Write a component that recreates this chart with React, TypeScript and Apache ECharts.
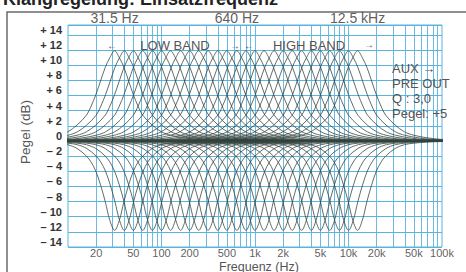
import React, { useEffect, useRef } from 'react';
import * as echarts from 'echarts';

// ---- data ----
const lowBandCentersHz = [31.5, 40, 50, 63, 80, 100, 125, 160, 200, 250, 315, 400, 500, 640];
const highBandCentersHz = [800, 1000, 1250, 1600, 2000, 2500, 3150, 4000, 5000, 6300, 8000, 10000, 12500];

// offset from the centre frequency, in octaves
const shapeOffsetsOct = [-12, -6, -4, -3, -2.5, -2, -1.667, -1.333, -1, -0.833, -0.667, -0.5, -0.333, -0.167, 0,
  0.167, 0.333, 0.5, 0.667, 0.833, 1, 1.333, 1.667, 2, 2.5, 3, 4, 6, 12];
// level of a boost curve (dB) at those offsets
const boostShapeDb = [0, 0, 0.08, 0.2, 0.4, 0.75, 1.2, 2.1, 3.4, 4.6, 6.1, 7.9, 9.7, 11.0, 11.9,
  11.0, 9.7, 7.9, 6.1, 4.6, 3.4, 2.1, 1.2, 0.75, 0.4, 0.2, 0.08, 0, 0];
// level of a cut curve (dB) at those offsets
const cutShapeDb = [0, 0, -0.03, -0.08, -0.15, -0.3, -0.5, -1.0, -2.0, -2.8, -4.0, -5.8, -8.0, -10.5, -11.8,
  -10.5, -8.0, -5.8, -4.0, -2.8, -2.0, -1.0, -0.5, -0.3, -0.15, -0.08, -0.03, 0, 0];

const xTickHz = [20, 50, 100, 200, 500, 1000, 2000, 5000, 10000, 20000, 50000, 100000];
const xTickLabels = ['20', '50', '100', '200', '500', '1k', '2k', '5k', '10k', '20k', '50k', '100k'];

const bandEdgeHz = [31.5, 640, 12500];
const bandEdgeLabels = ['31.5 Hz', '640 Hz', '12.5 kHz'];

const gridDecadesHz = [10, 100, 1000, 10000];
const gridMultiples = [1, 2, 3, 4, 5, 6, 7, 8, 9];

const yMinDb = -14;
const yMaxDb = 15.3;
const yStepDb = 2;
const xMinHz = 10;
const xMaxHz = 100000;

const FONT = '"Liberation Sans", Arial, Helvetica, sans-serif';
const GRID_BLUE = '#5ab4dc';
const CURVE = '#34443f';

export default function App() {
  const ref = useRef<HTMLDivElement>(null);

  useEffect(() => {
    if (!ref.current) return;
    const chart = echarts.init(ref.current, undefined, { renderer: 'svg' });

    const verticalGridHz = gridDecadesHz.flatMap((d) => gridMultiples.map((m) => d * m)).filter((v) => v > xMinHz && v < xMaxHz);

    const makeCurves = (centers: number[], shape: number[], name: string) =>
      centers.map((fc) => ({
        type: 'line',
        name,
        data: shapeOffsetsOct.map((o, i) => [fc * Math.pow(2, o), shape[i]]),
        showSymbol: false,
        symbol: 'none',
        smooth: 0.35,
        clip: true,
        silent: true,
        z: 3,
        lineStyle: { color: CURVE, width: 1, opacity: 0.78 },
      }));

    const series: any[] = [
      {
        type: 'scatter',
        name: 'xticks',
        data: xTickHz.map((f) => [f, yMinDb]),
        symbolSize: 0,
        silent: true,
        clip: false,
        z: 4,
        label: {
          show: true,
          position: 'bottom',
          distance: 0,
          formatter: (p: any) => xTickLabels[p.dataIndex],
          color: '#333',
          fontSize: 11,
          lineHeight: 12,
          fontFamily: FONT,
        },
        markLine: {
          silent: true,
          z: 1,
          symbol: ['none', 'none'],
          label: { show: false },
          lineStyle: { color: GRID_BLUE, width: 1, type: 'solid', opacity: 0.9 },
          emphasis: { disabled: true },
          data: verticalGridHz.map((v) => ({ xAxis: v })),
        },
      },
      {
        type: 'scatter',
        name: 'bands',
        data: bandEdgeHz.map((f) => [f, yMaxDb]),
        symbolSize: 0,
        silent: true,
        clip: false,
        z: 4,
        label: {
          show: true,
          position: 'top',
          distance: 0,
          formatter: (p: any) => bandEdgeLabels[p.dataIndex],
          color: '#333',
          fontSize: 14,
          fontFamily: FONT,
        },
      },
      ...makeCurves(lowBandCentersHz, boostShapeDb, 'low boost'),
      ...makeCurves(highBandCentersHz, boostShapeDb, 'high boost'),
      ...makeCurves(lowBandCentersHz, cutShapeDb, 'low cut'),
      ...makeCurves(highBandCentersHz, cutShapeDb, 'high cut'),
    ];

    const annot = '#555';
    const t = (text: string, x: number, y: number, size: number, opts: any = {}) => ({
      type: 'text',
      x,
      y,
      silent: true,
      z: 10,
      rotation: opts.rotation || 0,
      style: {
        text,
        fill: opts.fill || annot,
        font: `${opts.weight || 'normal'} ${size}px ${FONT}`,
        align: opts.align || 'center',
        textAlign: opts.align || 'center',
        verticalAlign: opts.va || 'middle',
        textVerticalAlign: opts.va || 'middle',
        lineHeight: opts.lineHeight,
      },
    });

    chart.setOption({
      animation: false,
      backgroundColor: '#ffffff',
      grid: {
        left: 68,
        right: 24,
        top: 25,
        bottom: 25,
        show: true,
        borderColor: GRID_BLUE,
        borderWidth: 1,
        backgroundColor: 'transparent',
      },
      xAxis: {
        type: 'log',
        logBase: 10,
        min: xMinHz,
        max: xMaxHz,
        axisLine: { show: false },
        axisTick: { show: false },
        axisLabel: { show: false },
        splitLine: { show: false },
      },
      yAxis: {
        type: 'value',
        min: yMinDb,
        max: yMaxDb,
        interval: yStepDb,
        axisLine: { show: false },
        axisTick: { show: false },
        splitLine: { show: true, lineStyle: { color: GRID_BLUE, width: 1 } },
        axisLabel: {
          margin: 6,
          fontSize: 11,
          fontWeight: 'bold',
          color: '#333',
          fontFamily: FONT,
          verticalAlign: 'bottom',
          lineHeight: 10,
          formatter: (v: number) => {
            if (Math.abs(v - Math.round(v)) > 1e-6 || v > 14) return '';
            if (v === 0) return '0';
            return v > 0 ? '+ ' + v : '– ' + -v;
          },
        },
      },
      graphic: [
        {
          type: 'rect',
          silent: true,
          z: 0,
          shape: { x: 7, y: 12, width: 480, height: 290 },
          style: { fill: 'none', stroke: '#6b6b6b', lineWidth: 1.5 },
        },
        t('Klangregelung: Einsatzfrequenz', 3, -1, 18, { align: 'left', weight: 'bold', fill: '#222' }),
        t('Pegel (dB)', 25, 132, 13.5, { rotation: Math.PI / 2 }),
        t('Frequenz (Hz)', 259, 266.5, 12.5, { lineHeight: 12 }),
        t('←', 112, 45, 10),
        t('LOW BAND', 175, 45, 13),
        t('→', 235, 45, 10),
        t('←', 249, 45, 10),
        t('HIGH BAND', 309, 45, 13),
        t('→', 369, 44, 10),
        t('AUX →\nPRE OUT\nQ : 3,0\nPegel: +5', 392, 61, 13, { align: 'left', va: 'top', lineHeight: 15 }),
      ],
      series,
    });

    return () => chart.dispose();
  }, []);

  return (
    <div
      ref={ref}
      style={{ position: 'fixed', left: 0, top: 0, width: 466, height: 272, background: '#fff' }}
    />
  );
}
